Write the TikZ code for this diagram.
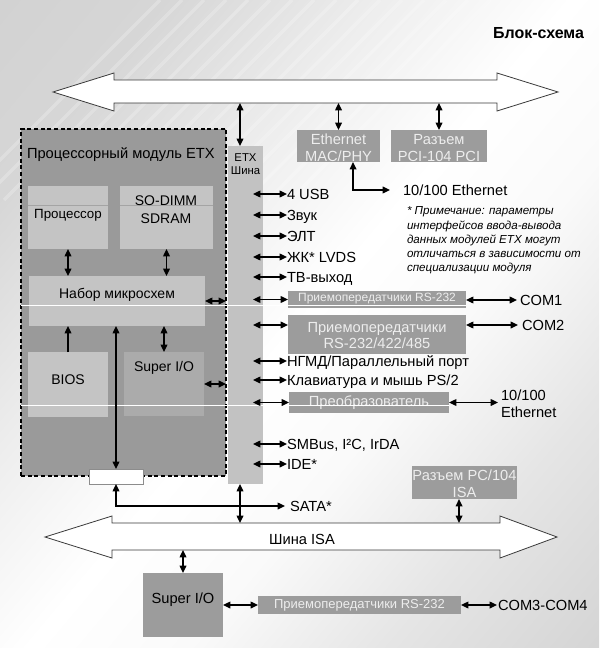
\documentclass[tikz,border=0pt]{standalone}
\usepackage{fontspec}
\setmainfont{Liberation Sans}
\usetikzlibrary{arrows.meta,fit,calc}
\definecolor{modfill}{HTML}{9A9A9A}
\definecolor{litefill}{HTML}{C4C4C4}
\definecolor{midfill}{HTML}{ABABAB}
\definecolor{colfill}{HTML}{C2C2C2}
\definecolor{boxfill}{HTML}{9C9C9C}
\definecolor{boxtext}{HTML}{EDEDED}
\definecolor{busline}{HTML}{3A3A3A}
\definecolor{splitline}{HTML}{A4A4A4}
% light page backdrop: grey corners, white diagonal band
\pgfdeclarehorizontalshading{backdrop}{100bp}{%
  rgb(0bp)=(0.80,0.80,0.80);
  rgb(25bp)=(0.84,0.84,0.84);
  rgb(38bp)=(0.93,0.93,0.93);
  rgb(50bp)=(1,1,1);
  rgb(60bp)=(0.98,0.98,0.98);
  rgb(72bp)=(0.90,0.90,0.90);
  rgb(100bp)=(0.76,0.76,0.76)}
\begin{document}
\begin{tikzpicture}[x=0.75pt,y=-0.75pt,
  every node/.style={inner sep=0pt,outer sep=0pt},
  lite/.style={fill=litefill},
  dark/.style={fill=boxfill,text=boxtext,align=center},
  lbl/.style={anchor=west,font=\fontsize{11}{13}\selectfont,text height=7.9pt,text depth=0pt},
  boxtxt/.style={font=\fontsize{10.5}{12.75}\selectfont},
  smalltxt/.style={font=\fontsize{9}{11}\selectfont},
  dbl/.style={{Triangle[length=5.5pt,width=5pt]}-{Triangle[length=5.5pt,width=5pt]},line width=1pt},
  sgl/.style={-{Triangle[length=5.5pt,width=5pt]},line width=1pt},
  bus/.style={fill=white,draw=busline,line width=0.6pt,line join=miter}]

% page and background
\useasboundingbox (0,0) rectangle (599,648);
\shade[shading=backdrop,shading angle=-40] (0,0) rectangle (599,648);
\begin{scope}
  \clip (0,0) rectangle (599,648);
  \foreach \s in {0,22,...,330}
    \draw[white,opacity=0.22,line width=2.5pt] (\s-40,200) -- (\s+160,0);
\end{scope}

% heading
\node[anchor=east,font=\bfseries\fontsize{12}{14}\selectfont] (title) at (584,33) {Блок-схема};

% upper bus
\draw[bus] (53,92) -- (114,73) -- (114,80) -- (497,80) -- (497,73) -- (558,92)
  -- (497,111) -- (497,103) -- (114,103) -- (114,111) -- cycle;
\coordinate (topbus) at (0,103);

% ISA bus
\draw[bus] (45,537) -- (112,516) -- (112,523) -- (500,523) -- (500,516) -- (557,537)
  -- (500,558) -- (500,550) -- (112,550) -- (112,558) -- cycle;
\coordinate (isatop) at (0,523);
\coordinate (isabot) at (0,550);
\node[font=\fontsize{11}{13}\selectfont] (isa) at (302,539) {Шина ISA};

% processor module
\node[fill=modfill,draw=black,dashed,dash pattern=on 3pt off 2pt,line width=0.8pt,
  fit={(21,129)(226,476)}] (module) {};
\node[anchor=west,font=\fontsize{11}{13}\selectfont] (modtitle) at (27,155) {Процессорный модуль ETX};

\node[lite,fit={(28,186)(108,249)}] (proc) {};
\node[lite,fit={(120,186)(213,249)}] (sodimm) {};
\draw[splitline,line width=0.6pt] (proc.west |- 0,205) -- (proc.east |- 0,205);
\draw[splitline,line width=0.6pt] (sodimm.west |- 0,205) -- (sodimm.east |- 0,205);
\node[font=\fontsize{10}{12}\selectfont] (proctxt) at (68,215) {Процессор};
\node[boxtxt] (sodtxt1) at (166,201) {SO-DIMM};
\node[boxtxt] (sodtxt2) at (166,219) {SDRAM};

\node[lite,fit={(29,276)(205,326)}] (chip) {};
\node[boxtxt] (chiptxt) at (117,295) {Набор микросхем};

\node[lite,fit={(28,352)(108,417)},boxtxt] (bios) {BIOS};
\node[fill=midfill,fit={(124,352)(204,416)}] (sio) {};
\node[boxtxt] (siotxt) at (164,368) {Super I/O};

% ETX bus column
\node[fill=colfill,fit={(228,146)(263,484)}] (etx) {};
\node[font=\fontsize{8.5}{10}\selectfont] (etxt1) at (245.5,158) {ETX};
\node[font=\fontsize{8.5}{10}\selectfont] (etxt2) at (245.5,171) {Шина};
\coordinate (etxr) at (253,0);
\coordinate (etxbus) at (240,0);

% white connector block
\node[fill=white,draw=black!45,line width=0.6pt,fit={(89,469)(143,484)}] (wbox) {};

% peripheral boxes
\node[dark,fit={(297,130)(380,162)}] (eth) {};
\node[dark,font=\fontsize{11}{12.75}\selectfont] (ethtxt) at (338.5,148) {Ethernet\\MAC/PHY};
\node[dark,fit={(391,130)(487,162)}] (pci) {};
\node[dark,font=\fontsize{11}{12.75}\selectfont] (pcitxt) at (439,148) {Разъем\\PCI-104 PCI};

\node[dark,fit={(288,291)(466,308)}] (rs1) {};
\node[text=boxtext,smalltxt] (rs1txt) at (377,298.5) {Приемопередатчики RS-232};
\node[dark,fit={(288,315)(466,354)}] (rs2) {};
\node[dark,font=\fontsize{11}{12}\selectfont] (rs2txt) at (377,336) {Приемопередатчики\\RS-232/422/485};
\node[dark,fit={(289,392)(449,413)}] (conv) {};
\node[text=boxtext,font=\fontsize{11}{13}\selectfont] (convtxt) at (369,403) {Преобразователь};
\node[dark,fit={(412,466)(517,499)}] (pc104) {};
\node[dark,font=\fontsize{11}{12.75}\selectfont] (pctxt) at (464.5,484) {Разъем PC/104\\ISA};

\node[fill=boxfill,fit={(143,573)(223,637)},font=\fontsize{11}{13}\selectfont] (sio2) {Super I/O};
\node[fill=boxfill,fit={(258,596)(461,614)}] (rs3) {};
\node[text=boxtext,font=\fontsize{9.75}{12}\selectfont] (rs3txt) at (359.5,605) {Приемопередатчики RS-232};

% interface labels
\node[lbl] (usb) at (287,194) {4 USB};
\node[lbl] (zvuk) at (287,215) {Звук};
\node[lbl] (elt) at (287,236) {ЭЛТ};
\node[lbl] (lcd) at (287,257) {ЖК* LVDS};
\node[lbl] (tv) at (287,277) {ТВ-выход};
\node[lbl] (ngmd) at (287,361) {НГМД/Параллельный порт};
\node[lbl] (kbd) at (287,380) {Клавиатура и мышь PS/2};
\node[lbl] (smb) at (287,444) {SMBus, I²C, IrDA};
\node[lbl] (ide) at (287,464) {IDE*};
\node[lbl] (com1) at (520,300) {COM1};
\node[lbl] (com2) at (522,325) {COM2};
\node[lbl] (eth1) at (403,190) {10/100 Ethernet};
\node[anchor=west,align=left,font=\fontsize{11}{12.75}\selectfont] (eth2) at (501,404) {10/100\\Ethernet};
\node[lbl] (sata) at (290,506) {SATA*};
\node[lbl] (com34) at (498,605) {COM3-COM4};

% footnote
\node[anchor=north west,align=left,font=\itshape\fontsize{8.7}{10.6}\selectfont] (note) at (407,207)
  {* Примечание: параметры\\интерфейсов ввода-вывода\\данных модулей ETX могут\\отличаться в зависимости от\\специализации модуля};

% thin white rules across the module
\draw[white,line width=0.6pt] (module.west |- 0,305) -- (rs1.east |- 0,305);
\draw[white,line width=0.6pt] (module.west |- 0,405.5) -- (conv.east |- 0,405.5);

% connectors inside the module
\draw[dbl] (proc.south) -- (proc.south |- chip.north);
\draw[dbl] (sodimm.south) -- (sodimm.south |- chip.north);
\draw[sgl] (bios.north) -- (bios.north |- chip.south);
\draw[dbl] (sio.north) -- (sio.north |- chip.south);
\draw[dbl] (wbox.north) -- (wbox.north |- chip.south);
\draw[dbl] (chip.east) -- (chip.east -| module.east);
\draw[dbl] (sio.east) -- (sio.east -| module.east);

% bus connectors
\draw[dbl] (etxbus |- topbus) -- (etxbus |- etx.north);
\draw[dbl] (eth.north) -- (eth.north |- topbus);
\draw[dbl] (pci.north) -- (pci.north |- topbus);
\draw[dbl] ([xshift=10.9pt]eth.south) |- ([xshift=-9.75pt]eth1.west);
\draw[dbl] (etxbus |- etx.south) -- (etxbus |- isatop);
\draw[dbl] ([xshift=-4.1pt]pc104.south) -- ([xshift=-4.1pt]pc104.south |- isatop);
\draw[dbl] (sio2.north) -- (sio2.north |- isabot);
\draw[dbl] (wbox.south) |- ([xshift=-3.75pt]sata.west);

% ETX bus interfaces
\foreach \n in {usb,zvuk,elt,lcd,tv,ngmd,kbd,smb,ide}
  \draw[dbl] (etxr |- \n.west) -- (\n.west);
\draw[dbl] (etxr |- rs1.west) -- (rs1.west);
\draw[dbl] (rs1.east |- com1.west) -- ([xshift=-2.25pt]com1.west);
\draw[dbl] (etxr |- com2.west) -- (rs2.west |- com2.west);
\draw[dbl] (rs2.east |- com2.west) -- ([xshift=-3pt]com2.west);
\draw[dbl] (etxr |- conv.west) -- (conv.west);
\draw[dbl] (conv.east) -- ([xshift=-2.25pt]conv.east -| eth2.west);
\draw[dbl] (sio2.east) -- (rs3.west);
\draw[dbl] (rs3.east) -- ([xshift=-0.75pt]com34.west);

\end{tikzpicture}
\end{document}
